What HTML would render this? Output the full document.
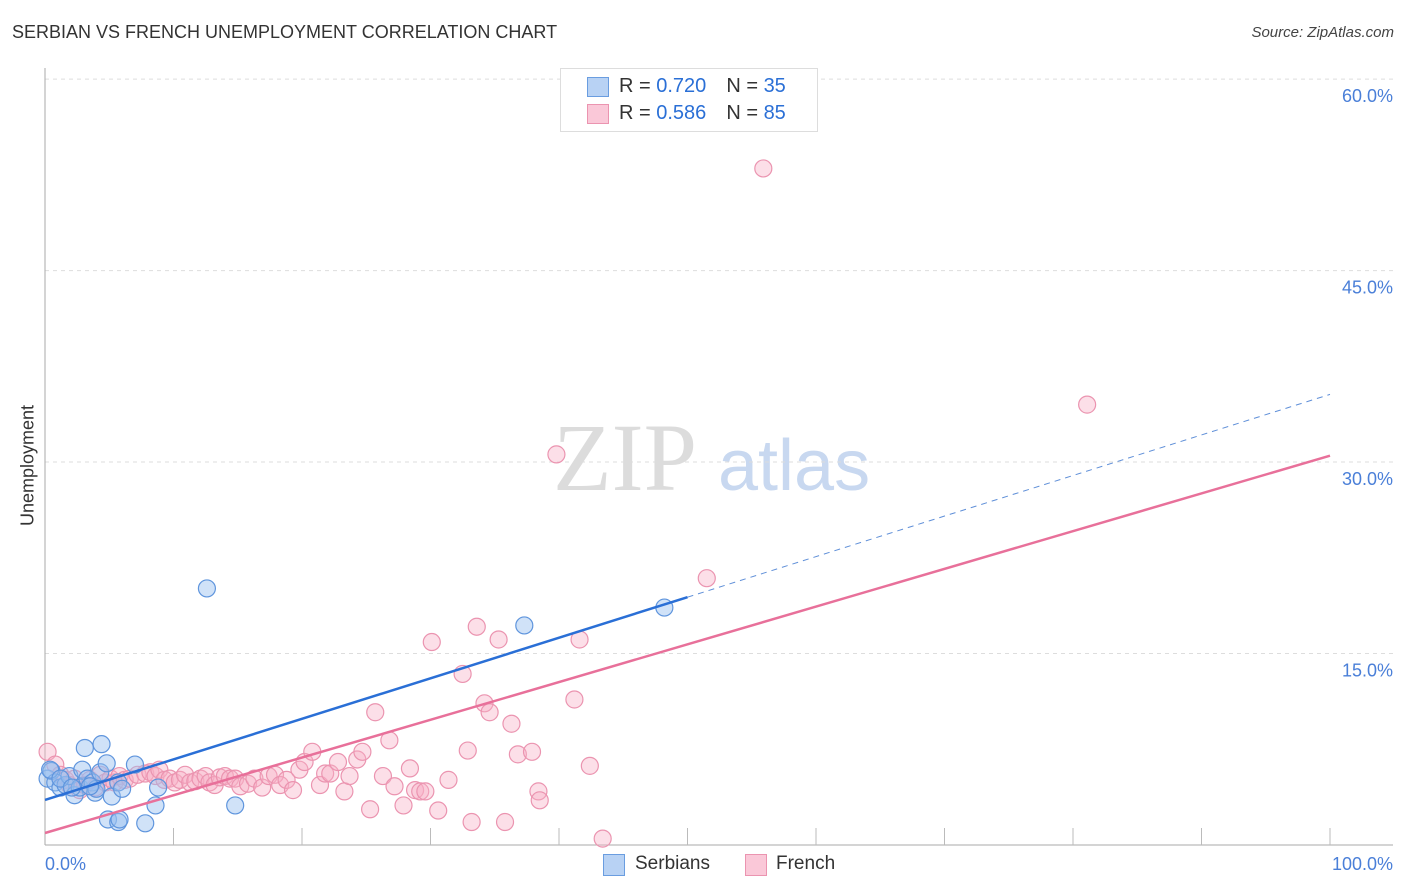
<!DOCTYPE html>
<html><head><meta charset="utf-8"><style>
body{margin:0;background:#fff;font-family:"Liberation Sans",sans-serif;}
#wrap{position:relative;width:1406px;height:892px;overflow:hidden;}
.t{position:absolute;white-space:nowrap;}
</style></head><body>
<div id="wrap">
<div class="t" style="left:12px;top:22px;font-size:18px;color:#333;">SERBIAN VS FRENCH UNEMPLOYMENT CORRELATION CHART</div>
<div class="t" style="right:12px;top:24px;font-size:15px;color:#444;font-style:italic;">Source: ZipAtlas.com</div>
<div class="t" style="left:8px;top:455px;font-size:18px;color:#333;transform:rotate(-90deg);transform-origin:center;width:60px;text-align:center;margin-left:-10px;"><span style="display:inline-block;width:140px;margin-left:-40px">Unemployment</span></div>
<svg id="svg" width="1406" height="892" style="position:absolute;left:0;top:0"></svg>
</div>
<script>
const yTicks=[15,30,45,60];
const yTickLabels=["15.0%","30.0%","45.0%","60.0%"];
const serbX=[0.2,0.5,0.8,1.2,1.6,1.9,2.3,2.7,2.9,3.1,3.3,3.7,3.9,4.0,4.3,4.4,4.8,5.2,5.7,6.0,4.9,5.7,5.8,7.0,7.8,8.6,8.8,12.6,14.8,37.3,48.2,0.4,1.2,2.1,3.5];
const serbY=[5.2,5.8,4.9,4.5,4.7,5.4,3.9,4.5,5.9,7.6,5.2,4.9,4.1,4.4,5.7,7.9,6.4,3.8,4.9,4.4,2.0,1.8,2.0,6.3,1.7,3.1,4.5,20.1,3.1,17.2,18.6,5.9,5.2,4.5,4.6];
const frX=[0.2,0.8,1.2,1.6,1.9,2.3,2.7,3.1,3.5,3.9,4.3,4.7,5.1,5.4,5.8,6.2,6.6,7.2,7.8,8.2,8.6,8.9,9.3,9.7,10.1,10.5,10.9,11.3,11.7,12.1,12.5,12.8,13.2,13.6,14.0,14.4,14.8,15.2,15.8,16.3,16.9,17.4,17.9,18.3,18.8,19.3,19.8,20.2,20.8,21.4,21.8,22.2,22.8,23.3,23.7,24.3,24.7,25.3,25.7,26.3,26.8,27.2,27.9,28.4,28.8,29.2,29.6,30.1,30.6,31.4,32.5,32.9,33.2,33.6,34.2,34.6,35.3,35.8,36.3,36.8,37.9,38.4,38.5,39.8,41.2,41.6,42.4,43.4,51.5,55.9,81.1];
const frY=[7.3,6.3,5.5,5.1,4.7,5.2,4.3,4.7,5.1,4.5,5.5,4.9,5.2,4.9,5.4,5.1,5.2,5.5,5.6,5.7,5.4,5.9,5.1,5.2,4.9,5.1,5.5,4.9,5.0,5.2,5.4,4.9,4.7,5.3,5.4,5.2,5.2,4.6,4.8,5.2,4.5,5.4,5.5,4.7,5.1,4.3,5.9,6.5,7.3,4.7,5.6,5.6,6.5,4.2,5.4,6.7,7.3,2.8,10.4,5.4,8.2,4.6,3.1,6.0,4.3,4.2,4.2,15.9,2.7,5.1,13.4,7.4,1.8,17.1,11.1,10.4,16.1,1.8,9.5,7.1,7.3,4.2,3.5,30.6,11.4,16.1,6.2,0.5,20.9,53.0,34.5];
const serbLine=[3.53,35.3];
const frLine=[0.94,30.5];
const NS="http://www.w3.org/2000/svg";
const svg=document.getElementById('svg');
const X=v=>45+v*12.85, Y=v=>845-v*12.765;
function mk(tag,attrs,parent){const e=document.createElementNS(NS,tag);for(const k in attrs)e.setAttribute(k,attrs[k]);(parent||svg).appendChild(e);return e;}
let w=mk('text',{x:553,y:490,'font-size':96,'font-family':'Liberation Serif',fill:'#dcdcdc'});w.textContent='ZIP';


let w2=mk('text',{x:718,y:490,'font-size':72,'font-family':'Liberation Sans',fill:'#c8d8f0'});w2.textContent='atlas';


yTicks.forEach((v,i)=>{
 const g=mk('line',{x1:45,x2:1393,y1:Y(v),y2:Y(v),stroke:'#ddd','stroke-dasharray':'4,4'});
 
 
 const t=mk('text',{x:1393,y:Y(v)+23,'text-anchor':'end','font-size':18,fill:'#4a7fd8','font-family':'Liberation Sans'});t.textContent=yTickLabels[i];
 
 
});
let ax=mk('line',{x1:45,x2:45,y1:68,y2:845,stroke:'#aaa'});


let bx=mk('line',{x1:45,x2:1393,y1:845,y2:845,stroke:'#aaa'});


for(let i=1;i<=10;i++){const tk=mk('line',{x1:X(i*10),x2:X(i*10),y1:828,y2:845,stroke:'#bbb'});
 
 }
let xl=mk('text',{x:45,y:870,'font-size':18,fill:'#4a7fd8'});xl.textContent='0.0%';


let xr=mk('text',{x:1393,y:870,'font-size':18,fill:'#4a7fd8','text-anchor':'end'});xr.textContent='100.0%';


frX.forEach((v,i)=>{const c=mk('circle',{cx:X(v),cy:Y(frY[i]),r:8.5,fill:'rgba(248,175,198,0.4)',stroke:'#eb94b0','stroke-width':1.2});
 
 });
serbX.forEach((v,i)=>{const c=mk('circle',{cx:X(v),cy:Y(serbY[i]),r:8.5,fill:'rgba(150,190,240,0.45)',stroke:'#5f95dd','stroke-width':1.2});
 
 });
const sAt=x=>serbLine[0]+(serbLine[1]-serbLine[0])*x/100;
const fAt=x=>frLine[0]+(frLine[1]-frLine[0])*x/100;
let l1=mk('line',{x1:X(0),y1:Y(sAt(0)),x2:X(50),y2:Y(sAt(50)),stroke:'#2a6fd6','stroke-width':2.5});


let l2=mk('line',{x1:X(50),y1:Y(sAt(50)),x2:X(100),y2:Y(sAt(100)),stroke:'#5f8fd8','stroke-width':1,'stroke-dasharray':'6,5'});


let l3=mk('line',{x1:X(0),y1:Y(fAt(0)),x2:X(100),y2:Y(fAt(100)),stroke:'#e8709a','stroke-width':2.5});


</script>
<div style="position:absolute;left:560px;top:68px;width:256px;height:62px;border:1px solid #ddd;background:#fff;font-size:20px;color:#333;">
 <div style="position:absolute;left:26px;top:8px;width:20px;height:18px;background:#b8d2f4;border:1px solid #6a9de0"></div>
 <div class="t" style="left:58px;top:6px"><span>R = </span><span style="color:#2a6fd6">0.720</span><span style="margin-left:20px">N = </span><span style="color:#2a6fd6">35</span></div>
 <div style="position:absolute;left:26px;top:35px;width:20px;height:18px;background:#fac8d8;border:1px solid #eb94b0"></div>
 <div class="t" style="left:58px;top:33px"><span>R = </span><span style="color:#2a6fd6">0.586</span><span style="margin-left:20px">N = </span><span style="color:#2a6fd6">85</span></div>
</div>
<div style="position:absolute;left:603px;top:854px;width:20px;height:20px;background:#b8d2f4;border:1px solid #6a9de0"></div>
<div class="t" style="left:635px;top:853px;font-size:19px;color:#333">Serbians</div>
<div style="position:absolute;left:745px;top:854px;width:20px;height:20px;background:#fac8d8;border:1px solid #eb94b0"></div>
<div class="t" style="left:776px;top:853px;font-size:19px;color:#333">French</div>
</body></html>
